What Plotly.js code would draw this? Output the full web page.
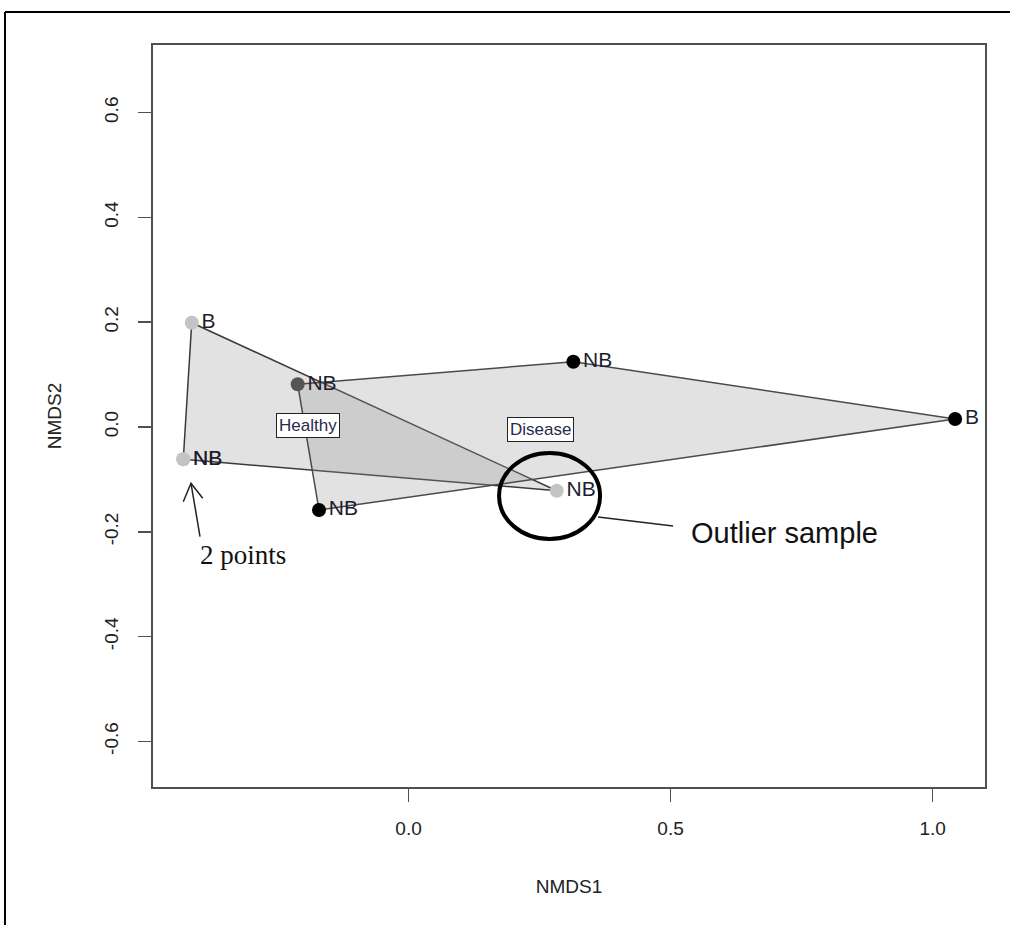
<!DOCTYPE html>
<html>
<head>
<meta charset="utf-8">
<script src="https://cdn.plot.ly/plotly-3.0.1.min.js"></script>
<style>html,body{margin:0;padding:0;background:#fff;}#chart{width:1010px;height:925px;}</style>
</head>
<body>
<div id="chart"></div>
<script>
// ---- data ----
const groups = ['Healthy', 'Disease'];
const healthyX = [-0.4137, -0.4298, -0.4298, 0.2828];
const healthyY = [0.199, -0.0616, -0.0616, -0.1216];
const healthyLabels = ['B', 'NB', 'NB', 'NB'];
const diseaseX = [-0.2115, 0.3145, 1.043, -0.1708];
const diseaseY = [0.0815, 0.1246, 0.0153, -0.1584];
const diseaseLabels = ['NB', 'NB', 'B', 'NB'];
const groupLabelX = [-0.1916, 0.251];
const groupLabelY = [0.0038, -0.0038];
const xTicks = [0, 0.5, 1.0];
const xTickText = ['0.0', '0.5', '1.0'];
const yTicks = [-0.6, -0.4, -0.2, 0, 0.2, 0.4, 0.6];
const yTickText = ['-0.6', '-0.4', '-0.2', '0.0', '0.2', '0.4', '0.6'];
const outlierLabel = 'Outlier sample';
const pointsLabel = '2 points';

// ---- convex hull ----
function hull(xs, ys) {
  const pts = xs.map((x, i) => [x, ys[i]]).sort((a, b) => a[0] - b[0] || a[1] - b[1]);
  const cross = (o, a, b) => (a[0] - o[0]) * (b[1] - o[1]) - (a[1] - o[1]) * (b[0] - o[0]);
  const lower = [], upper = [];
  for (const p of pts) { while (lower.length >= 2 && cross(lower[lower.length - 2], lower[lower.length - 1], p) <= 0) lower.pop(); lower.push(p); }
  for (let i = pts.length - 1; i >= 0; i--) { const p = pts[i]; while (upper.length >= 2 && cross(upper[upper.length - 2], upper[upper.length - 1], p) <= 0) upper.pop(); upper.push(p); }
  upper.pop(); lower.pop();
  const h = lower.concat(upper); h.push(h[0]);
  return { x: h.map(p => p[0]), y: h.map(p => p[1]) };
}
const hH = hull(healthyX, healthyY);
const hD = hull(diseaseX, diseaseY);

const FONT = 'Liberation Sans, Arial, sans-serif';
const labelFont = { family: FONT, size: 21, color: '#1e1e2e' };

const traces = [
  { x: hH.x, y: hH.y, mode: 'lines', fill: 'toself', fillcolor: 'rgba(150,150,150,0.28)',
    line: { color: '#3a3a3a', width: 1.5 }, hoverinfo: 'skip', showlegend: false },
  { x: hD.x, y: hD.y, mode: 'lines', fill: 'toself', fillcolor: 'rgba(150,150,150,0.28)',
    line: { color: '#4a4a4a', width: 1.5 }, hoverinfo: 'skip', showlegend: false },
  { x: healthyX, y: healthyY, text: healthyLabels, mode: 'markers+text', textposition: 'middle right',
    marker: { color: '#c4c4c4', size: 14 }, textfont: labelFont, showlegend: false, cliponaxis: false },
  { x: diseaseX, y: diseaseY, text: diseaseLabels, mode: 'markers+text', textposition: 'middle right',
    marker: { color: ['#555555', '#000000', '#000000', '#000000'], size: 14 }, textfont: labelFont, showlegend: false, cliponaxis: false }
];

const annotations = groups.map((g, i) => ({
  x: groupLabelX[i], y: groupLabelY[i], xref: 'x', yref: 'y', text: g, showarrow: false,
  font: { family: FONT, size: 17, color: '#2a2a4a' }, bgcolor: '#ffffff', bordercolor: '#222', borderwidth: 1, borderpad: 2
}));
annotations.push({ x: 0.7166, y: -0.2023, xref: 'x', yref: 'y', text: outlierLabel, showarrow: false,
  font: { family: FONT, size: 29, color: '#111' } });
annotations.push({ x: -0.3153, y: -0.2443, xref: 'x', yref: 'y', text: pointsLabel, showarrow: false,
  font: { family: 'Liberation Serif, Times New Roman, serif', size: 27, color: '#111' } });

const shapes = [
  { type: 'circle', xref: 'x', yref: 'y', x0: 0.1727, x1: 0.3655, y0: -0.2137, y1: -0.0496,
    line: { color: '#000', width: 4 } },
  { type: 'line', xref: 'x', yref: 'y', x0: 0.3616, y0: -0.1718, x1: 0.5048, y1: -0.1889,
    line: { color: '#222', width: 1.5 } },
  { type: 'line', xref: 'x', yref: 'y', x0: -0.3979, y0: -0.2093, x1: -0.4151, y1: -0.1074,
    line: { color: '#222', width: 1.5 } },
  { type: 'path', xref: 'x', yref: 'y', path: 'M -0.4298 -0.1426 L -0.4151 -0.1074 L -0.3927 -0.1361',
    line: { color: '#222', width: 1.5 } },
  { type: 'line', xref: 'paper', yref: 'paper', x0: -0.1779, y0: 1.0445, x1: 1.04, y1: 1.0445,
    line: { color: '#000', width: 2 } },
  { type: 'line', xref: 'paper', yref: 'paper', x0: -0.1779, y0: 1.0445, x1: -0.1779, y1: -0.2,
    line: { color: '#000', width: 2 } }
];

const layout = {
  width: 1010, height: 925,
  margin: { l: 153, r: 25, t: 45, b: 138 },
  paper_bgcolor: '#fff', plot_bgcolor: '#fff',
  showlegend: false,
  xaxis: {
    range: [-0.4876, 1.1], tickvals: xTicks, ticktext: xTickText,
    showgrid: false, zeroline: false, showline: true, mirror: true, linecolor: '#505050', linewidth: 2,
    ticks: 'outside', ticklen: 13, tickwidth: 1.5, tickcolor: '#505050',
    tickfont: { family: FONT, size: 19, color: '#222' }, ticklabelstandoff: 10,
    title: { text: 'NMDS1', font: { family: FONT, size: 19, color: '#222' }, standoff: 42 }
  },
  yaxis: {
    range: [-0.687, 0.729], tickvals: yTicks, ticktext: yTickText, tickangle: -90,
    showgrid: false, zeroline: false, showline: true, mirror: true, linecolor: '#505050', linewidth: 2,
    ticks: 'outside', ticklen: 13, tickwidth: 1.5, tickcolor: '#505050',
    tickfont: { family: FONT, size: 19, color: '#222' }, ticklabelstandoff: 12,
    title: { text: 'NMDS2', font: { family: FONT, size: 19, color: '#222' }, standoff: 35 }
  },
  annotations: annotations,
  shapes: shapes
};

Plotly.newPlot('chart', traces, layout, { displayModeBar: false, staticPlot: true });
</script>
</body>
</html>
